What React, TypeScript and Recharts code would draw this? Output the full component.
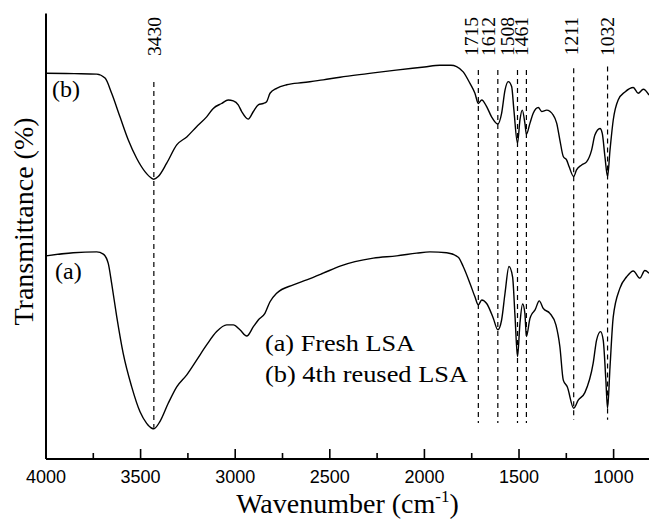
import React from 'react';
import { ComposedChart, Line, XAxis, YAxis, ReferenceLine } from 'recharts';

// Curve (b): 4th reused LSA (upper spectrum)
const waveB = [4000, 3850, 3732, 3688, 3653, 3609, 3565, 3521, 3477, 3441, 3430, 3407, 3362, 3309, 3256, 3204, 3151, 3116, 3072, 3037, 3010, 2984, 2966, 2931, 2904, 2878, 2852, 2834, 2816, 2781, 2728, 2640, 2535, 2446, 2300, 2150, 2000, 1918, 1860, 1830, 1795, 1759, 1733, 1715, 1697, 1671, 1645, 1612, 1592, 1574, 1557, 1539, 1527, 1508, 1495, 1483, 1469, 1461, 1442, 1425, 1398, 1380, 1354, 1319, 1301, 1284, 1266, 1248, 1235, 1211, 1196, 1169, 1143, 1116, 1099, 1072, 1060, 1046, 1032, 1019, 1002, 976, 940, 896, 870, 843, 813];
const transB = [86.6, 86.5, 86.4, 85.5, 82.1, 76.8, 71.6, 67.5, 64.5, 63.0, 62.8, 63.4, 66.4, 70.5, 72.3, 74.6, 76.8, 78.7, 79.8, 80.6, 80.4, 79.5, 78.0, 76.3, 78.0, 79.5, 79.8, 80.2, 82.1, 83.2, 84.0, 84.5, 85.1, 85.7, 86.5, 87.3, 88.0, 88.4, 88.4, 88.1, 86.9, 84.3, 82.1, 79.8, 80.6, 79.1, 76.8, 75.2, 77.6, 82.8, 84.7, 83.6, 78.3, 70.9, 76.1, 78.3, 75.4, 72.9, 75.4, 77.6, 78.9, 78.0, 78.3, 77.2, 75.4, 71.6, 67.9, 67.1, 65.6, 63.4, 64.9, 66.0, 66.7, 69.4, 72.7, 74.2, 73.1, 67.9, 63.4, 69.4, 76.1, 80.6, 82.4, 83.4, 82.1, 83.0, 81.7];

// Curve (a): Fresh LSA (lower spectrum)
const waveA = [4000, 3856, 3732, 3697, 3671, 3653, 3626, 3592, 3547, 3503, 3468, 3441, 3430, 3398, 3354, 3309, 3256, 3204, 3151, 3098, 3045, 3010, 2975, 2939, 2904, 2878, 2843, 2816, 2781, 2693, 2622, 2535, 2446, 2367, 2270, 2147, 2041, 1971, 1882, 1821, 1795, 1759, 1733, 1715, 1697, 1671, 1636, 1612, 1592, 1574, 1553, 1534, 1521, 1508, 1495, 1481, 1469, 1461, 1442, 1430, 1416, 1393, 1372, 1337, 1305, 1284, 1266, 1245, 1211, 1187, 1152, 1108, 1090, 1069, 1055, 1041, 1032, 1019, 1002, 967, 931, 896, 861, 835, 813];
const transA = [45.6, 46.3, 46.5, 46.0, 43.9, 39.4, 31.9, 23.7, 16.2, 10.6, 8.0, 6.9, 6.8, 8.4, 12.5, 16.2, 18.9, 22.2, 25.6, 28.6, 30.1, 30.1, 29.0, 27.6, 29.7, 31.2, 32.7, 35.3, 37.2, 39.1, 40.2, 41.7, 43.3, 44.3, 45.1, 45.6, 46.2, 46.5, 46.3, 45.3, 43.2, 39.4, 36.4, 34.6, 35.7, 34.9, 31.6, 29.0, 31.2, 37.2, 43.2, 40.9, 31.9, 23.0, 30.5, 34.8, 32.7, 27.5, 31.6, 32.7, 33.4, 35.5, 33.8, 32.7, 30.1, 25.2, 17.7, 16.2, 11.4, 13.2, 14.9, 21.5, 26.7, 28.6, 26.7, 17.7, 11.4, 20.7, 31.9, 38.3, 40.9, 42.2, 40.6, 42.3, 41.7];

// Marked bands
const peaks = [3430, 1715, 1612, 1508, 1461, 1211, 1032];
const peakTop = [84.6, 87.3, 87.3, 87.3, 87.3, 87.7, 88.1];
const peakBottom = [7.0, 8.1, 8.1, 8.1, 8.1, 8.8, 8.8];

const xTicks = [4000, 3750, 3500, 3250, 3000, 2750, 2500, 2250, 2000, 1750, 1500, 1250, 1000];
const xDomain = [813, 4000];
const yDomain = [0, 100];

const seriesA = waveA.map((w, i) => ({ w, t: transA[i] }));
const seriesB = waveB.map((w, i) => ({ w, t: transB[i] }));

const SERIF = '"Liberation Serif", "Times New Roman", serif';
const SANS = '"Liberation Sans", Arial, sans-serif';
const labelDx = [0, -7, -10, -11, -5, -3, -1];

function BottomTick(props: any) {
  const { x, y, payload } = props;
  const v = payload.value;
  const major = v % 500 === 0;
  return (
    <g>
      <line x1={x} x2={x} y1={y} y2={y - (major ? 10 : 6)} stroke="#000" strokeWidth={1.6} />
      {major && (
        <text x={x} y={y + 24} textAnchor="middle" fontFamily={SANS} fontSize={18} fill="#000">
          {v}
        </text>
      )}
    </g>
  );
}

const peakLabel = (i: number) => (props: any) => {
  const vb = props.viewBox || {};
  const bx = vb.x + labelDx[i] + 7;
  const by = 17;
  return (
    <text x={bx} y={by} transform={`rotate(-90 ${bx} ${by})`} textAnchor="end" fontFamily={SERIF} fontSize={19.5} fill="#000">
      {peaks[i]}
    </text>
  );
};

export default function App() {
  return (
    <div style={{ position: 'absolute', left: 0, top: 0, width: 649, height: 520, background: '#fff' }}>
      <ComposedChart width={649} height={520} margin={{ top: 13.5, right: 0, bottom: 0, left: 0 }} style={{ overflow: 'visible' }}>
        <XAxis
          dataKey="w"
          type="number"
          domain={xDomain}
          reversed
          allowDataOverflow
          ticks={xTicks}
          interval={0}
          height={61}
          tickSize={0}
          tickMargin={0}
          tickLine={false}
          tick={<BottomTick />}
          axisLine={{ stroke: '#000', strokeWidth: 2 }}
        />
        <XAxis
          xAxisId="top"
          orientation="top"
          dataKey="w"
          type="number"
          domain={xDomain}
          reversed
          height={0}
          tick={false}
          tickLine={false}
          axisLine={{ stroke: '#000', strokeWidth: 2 }}
        />
        <YAxis
          type="number"
          domain={yDomain}
          width={46}
          tick={false}
          tickLine={false}
          axisLine={{ stroke: '#000', strokeWidth: 2 }}
        />
        {peaks.map((p, i) => (
          <ReferenceLine
            key={p}
            segment={[{ x: p, y: peakTop[i] }, { x: p, y: peakBottom[i] }]}
            stroke="#000"
            strokeWidth={1.2}
            strokeDasharray="5 4"
            label={peakLabel(i)}
          />
        ))}
        <Line data={seriesB} dataKey="t" type="monotone" stroke="#000" strokeWidth={1.4} dot={false} activeDot={false} isAnimationActive={false} />
        <Line data={seriesA} dataKey="t" type="monotone" stroke="#000" strokeWidth={1.4} dot={false} activeDot={false} isAnimationActive={false} />
        <text x={52} y={97} fontFamily={SERIF} fontSize={24} fill="#000">(b)</text>
        <text x={55} y={279} fontFamily={SERIF} fontSize={24} fill="#000">(a)</text>
        <text x={265} y={350.5} fontFamily={SERIF} fontSize={24} fill="#000" textLength={150} lengthAdjust="spacingAndGlyphs">(a) Fresh LSA</text>
        <text x={265} y={381.5} fontFamily={SERIF} fontSize={24} fill="#000" textLength={203} lengthAdjust="spacingAndGlyphs">(b) 4th reused LSA</text>
        <text x={33} y={221.5} transform="rotate(-90 33 221.5)" textAnchor="middle" fontFamily={SERIF} fontSize={28} fill="#000">
          Transmittance (%)
        </text>
        <text x={347.5} y={513} textAnchor="middle" fontFamily={SERIF} fontSize={28} fill="#000">
          Wavenumber (cm<tspan dy={-11} fontSize={17}>-1</tspan><tspan dy={11}>)</tspan>
        </text>
      </ComposedChart>
    </div>
  );
}
